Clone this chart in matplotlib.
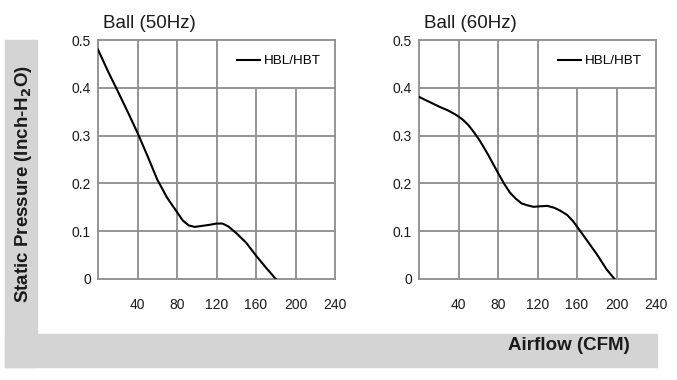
import matplotlib
matplotlib.use("Agg")
import matplotlib.pyplot as plt
from matplotlib.patches import Rectangle

plt.rcParams['font.family'] = ['Liberation Sans', 'DejaVu Sans']

# datos
flow_50 = [0, 10, 20, 30, 40, 50, 60, 70, 80, 86, 92, 98, 105, 112, 120, 126, 132, 140, 150, 160, 170, 180]
pres_50 = [0.480, 0.435, 0.393, 0.350, 0.306, 0.258, 0.208, 0.170, 0.140, 0.122, 0.112, 0.109, 0.111, 0.113, 0.116, 0.116, 0.110, 0.096, 0.076, 0.049, 0.024, 0.0]

flow_60 = [0, 10, 20, 30, 37, 44, 50, 56, 62, 70, 80, 86, 92, 98, 104, 110, 116, 122, 130, 137, 143, 150, 156, 162, 170, 180, 190, 198]
pres_60 = [0.381, 0.371, 0.361, 0.352, 0.344, 0.334, 0.322, 0.306, 0.288, 0.260, 0.222, 0.200, 0.181, 0.168, 0.158, 0.154, 0.151, 0.152, 0.153, 0.149, 0.143, 0.134, 0.121, 0.104, 0.081, 0.052, 0.020, 0.0]

x_ticks = [40, 80, 120, 160, 200, 240]
y_ticks = [0, 0.1, 0.2, 0.3, 0.4, 0.5]
y_labels = ["0", "0.1", "0.2", "0.3", "0.4", "0.5"]
titles = ["Ball (50Hz)", "Ball (60Hz)"]

GRID = "#8c8c8c"
PANEL = "#d4d4d4"
TXT = "#1a1a1a"

fig = plt.figure(figsize=(6.77, 3.8), dpi=100)

# fondo gris en forma de L
fig.patches.append(Rectangle((5 / 677, 13 / 380), 32 / 677, 327 / 380,
                             transform=fig.transFigure, color=PANEL, zorder=0))
fig.patches.append(Rectangle((5 / 677, 13 / 380), 652 / 677, 33 / 380,
                             transform=fig.transFigure, color=PANEL, zorder=0))


def draw_panel(ax, flow, pres, title):
    ax.set_xlim(0, 240)
    ax.set_ylim(0, 0.5)
    for v in [40, 80, 120]:
        ax.vlines(v, 0, 0.5, color=GRID, lw=1.3, zorder=1)
    for v in [160, 200]:
        ax.vlines(v, 0, 0.4, color=GRID, lw=1.3, zorder=1)
    for h in [0.1, 0.2, 0.3, 0.4]:
        ax.hlines(h, 0, 240, color=GRID, lw=1.3, zorder=1)
    for s in ax.spines.values():
        s.set_color(GRID)
        s.set_linewidth(1.3)
    ax.plot(flow, pres, color="black", lw=1.5, label="HBL/HBT", zorder=3)
    ax.set_xticks(x_ticks)
    ax.set_xticklabels([str(t) for t in x_ticks])
    ax.set_yticks(y_ticks)
    ax.set_yticklabels(y_labels)
    ax.tick_params(axis="x", length=0, pad=14, labelsize=10, colors=TXT)
    ax.tick_params(axis="y", length=0, pad=5, labelsize=10, colors=TXT)
    ax.text(0.02, 1.035, title, transform=ax.transAxes, fontsize=13.5,
            ha="left", va="bottom", color=TXT)
    ax.legend(loc="center left", frameon=False, fontsize=9.7, handlelength=1.7,
              handletextpad=0.25, borderpad=0, borderaxespad=0,
              bbox_to_anchor=(0.588, 0.912))


ax1 = fig.add_axes([98 / 677, 101 / 380, 237 / 677, 239 / 380])
draw_panel(ax1, flow_50, pres_50, titles[0])
ax2 = fig.add_axes([419 / 677, 101 / 380, 237 / 677, 239 / 380])
draw_panel(ax2, flow_60, pres_60, titles[1])

fig.text(23 / 677, 1 - 184 / 380, "Static Pressure (Inch-H$_\\mathbf{2}$O)", rotation=90,
         fontsize=13.5, fontweight="bold", ha="center", va="center", color=TXT)
fig.text(630 / 677, 1 - 345 / 380, "Airflow (CFM)", fontsize=13.5, fontweight="bold",
         ha="right", va="center", color=TXT)

fig.savefig("out.png", dpi=100)
